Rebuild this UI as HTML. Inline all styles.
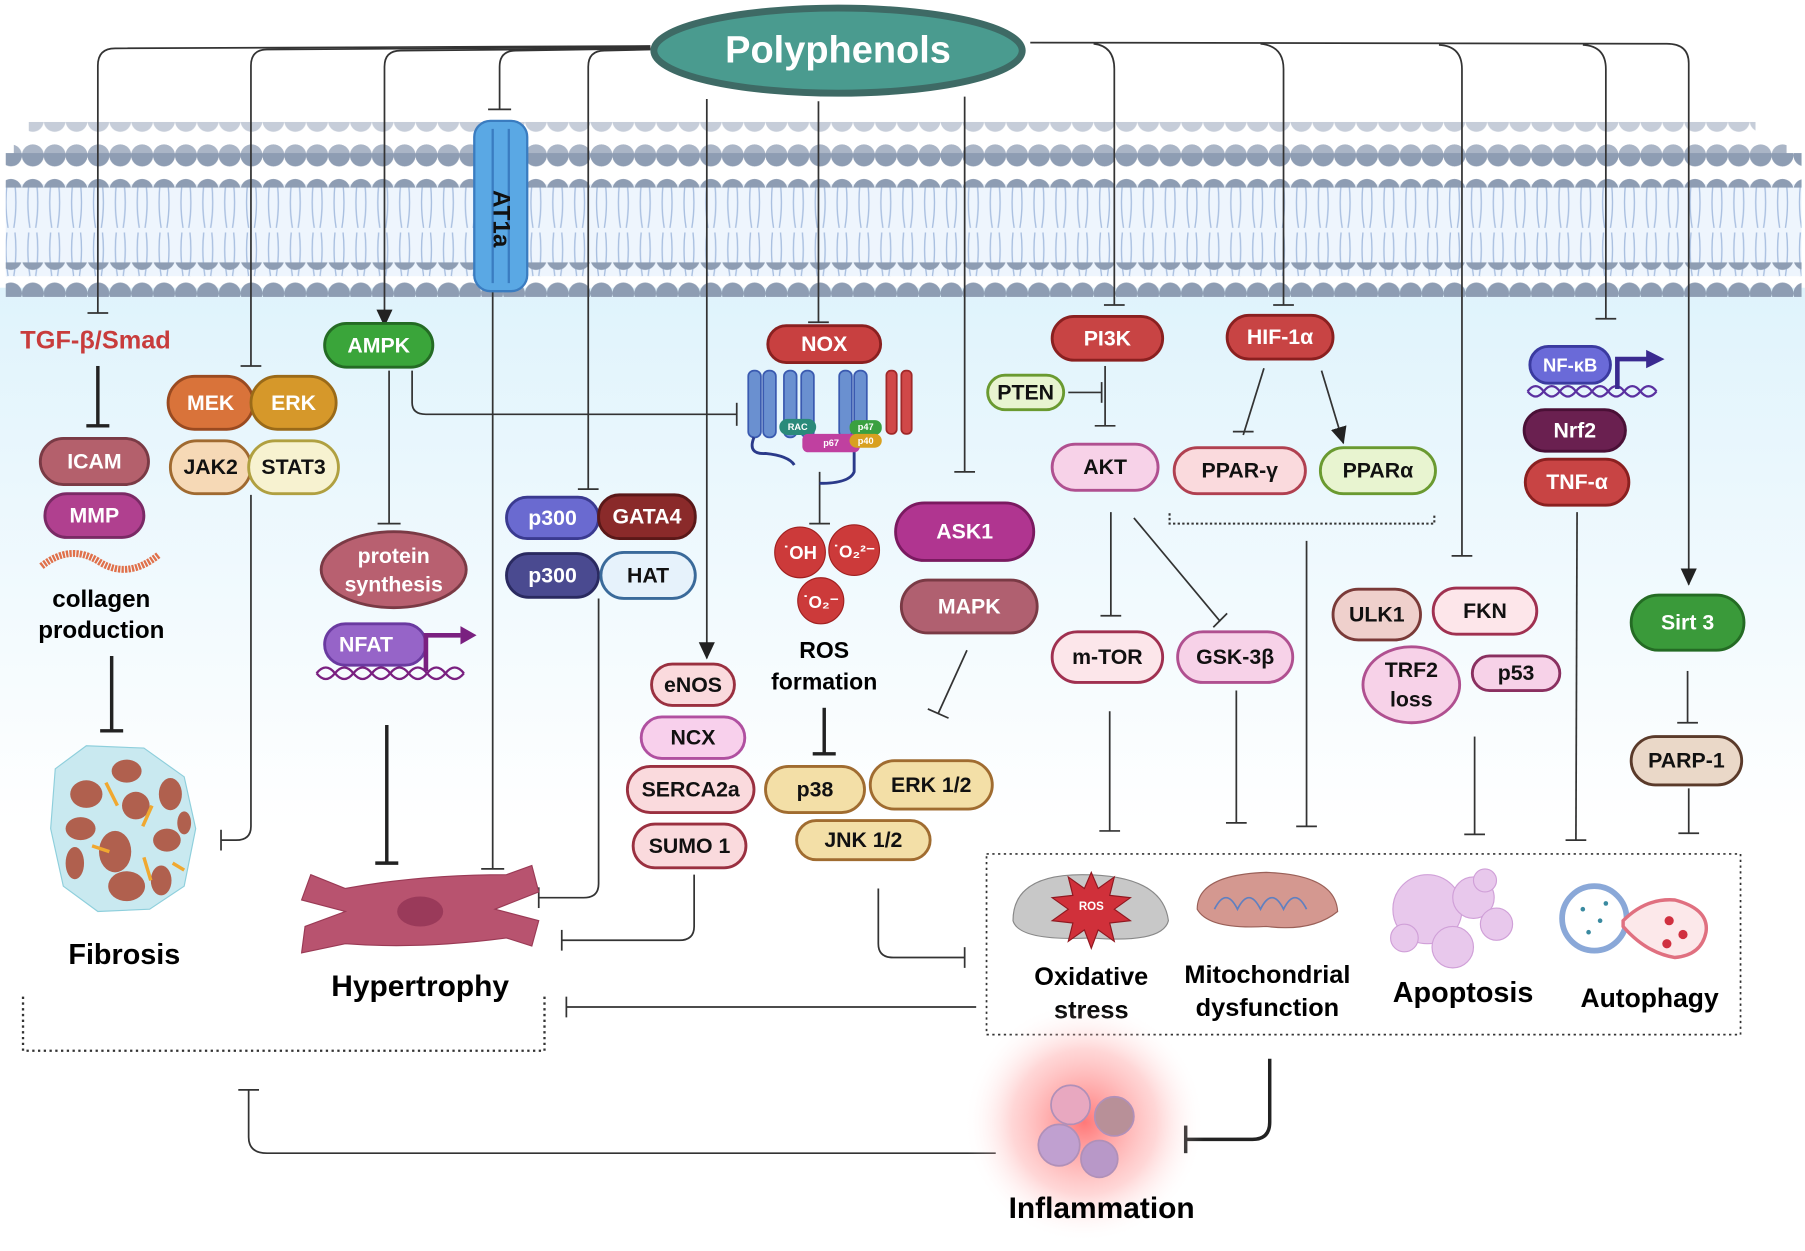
<!DOCTYPE html>
<html><head><meta charset="utf-8"><style>
html,body{margin:0;padding:0;background:#fff;overflow:hidden}
svg{display:block}
text{font-family:"Liberation Sans Narrow","Liberation Sans",sans-serif;font-weight:bold;text-anchor:middle;dominant-baseline:central}
</style></head><body>
<svg width="1805" height="1251" viewBox="0 0 1568 1087" preserveAspectRatio="none" xmlns="http://www.w3.org/2000/svg">
<defs>
<linearGradient id="bg" x1="0" y1="0" x2="0" y2="1">
<stop offset="0" stop-color="#dff3fc"/><stop offset="1" stop-color="#ffffff"/></linearGradient>
<pattern id="heads" width="19" height="30" patternUnits="userSpaceOnUse">
<circle cx="9.5" cy="15" r="9.5" fill="#8e9db3"/></pattern>
<pattern id="headsF" width="19" height="30" patternUnits="userSpaceOnUse">
<circle cx="9.5" cy="15" r="9.5" fill="#c6cdd9"/></pattern>
<pattern id="headsM" width="19" height="30" patternUnits="userSpaceOnUse">
<circle cx="9.5" cy="15" r="9.5" fill="#aab5c6"/></pattern>
<pattern id="tails" width="19" height="80" patternUnits="userSpaceOnUse">
<path d="M6 0 Q4 20 7 38 M13 0 Q15 20 12 38 M6 42 Q4 60 7 80 M13 42 Q15 60 12 80" stroke="#a9bfe0" stroke-width="1.2" fill="none"/></pattern>
<radialGradient id="glow"><stop offset="0" stop-color="#ff6060" stop-opacity="0.85"/><stop offset="0.6" stop-color="#ff9a9a" stop-opacity="0.4"/><stop offset="1" stop-color="#ffffff" stop-opacity="0"/></radialGradient>
<marker id="ar" markerWidth="16" markerHeight="16" refX="14" refY="7" orient="auto" markerUnits="userSpaceOnUse"><path d="M0 0 L15 7 L0 14Z" fill="#222"/></marker>
</defs>
<rect x="0" y="250" width="1568" height="470" fill="url(#bg)"/>
<rect x="5" y="160" width="1560" height="80" fill="#eef5fd"/>
<rect x="5" y="160" width="1560" height="80" fill="url(#tails)"/>
<rect x="25" y="106" width="1500" height="30" fill="url(#headsF)"/>
<rect x="12" y="118" width="1540" height="30" fill="url(#headsM)"/>
<rect x="5" y="133" width="1560" height="30" fill="url(#heads)"/>
<rect x="5" y="228" width="1560" height="30" fill="url(#heads)"/>

<g stroke="#333" stroke-width="1.5" fill="none">
<path d="M565 40 L100 42 Q85 42 85 57 L85 272"/><path d="M76 272 H94"/>
<path d="M565 41 L232 43 Q218 43 218 57 L218 318"/><path d="M209 318 H227"/>
<path d="M565 42 L348 44 Q334 44 334 58 L334 283" marker-end="url(#ar)"/>
<path d="M565 42 L448 44 Q434 44 434 58 L434 95"/><path d="M424 95 H444"/>
<path d="M565 43 L525 44 Q511 44 511 58 L511 425"/><path d="M502 425 H520"/>
<path d="M614 86 L614 572" marker-end="url(#ar)"/>
<path d="M711 88 L711 280"/><path d="M702 280 H720"/>
<path d="M838 84 L838 410"/><path d="M829 410 H847"/>
<path d="M895 37 L1448 38 Q1467 38 1467 55 L1467 508" marker-end="url(#ar)"/>
<path d="M950 38 Q968 40 968 60 L968 265"/><path d="M959 265 H977"/>
<path d="M1095 38 Q1115 40 1115 60 L1115 265"/><path d="M1106 265 H1124"/>
<path d="M1250 39 Q1270 40 1270 60 L1270 483"/><path d="M1261 483 H1279"/>
<path d="M1375 39 Q1395 40 1395 60 L1395 277"/><path d="M1386 277 H1404"/>
<path d="M338 322 L338 455"/><path d="M328 455 H348"/>
<path d="M358 322 L358 350 Q358 360 370 360 L640 360"/><path d="M640 350 V370"/>
<path d="M218 430 L218 718 Q218 730 205 730 L192 730"/><path d="M192 721 V739"/>
<path d="M428 252 L428 755"/><path d="M418 755 H438"/>
<path d="M520 520 L520 768 Q520 780 507 780 L468 780"/><path d="M468 771 V789"/>
<path d="M603 760 L603 805 Q603 817 590 817 L488 817"/><path d="M488 808 V826"/>
<path d="M712 410 L712 455"/><path d="M703 455 H721"/>
<path d="M763 772 L763 820 Q763 832 776 832 L838 832"/><path d="M838 823 V841"/>
<path d="M840 565 L815 620"/><path d="M806 616 L824 624"/>
<path d="M928 341 L957 341"/><path d="M957 332 V350"/>
<path d="M960 318 L960 370"/><path d="M951 370 H969"/>
<path d="M1098 320 L1080 378"/><path d="M1071 375 H1089"/>
<path d="M1148 322 L1167 385" marker-end="url(#ar)"/>
<path d="M1016 446 V455 H1246 V446" stroke-dasharray="2 2" stroke-width="1.8"/>
<path d="M1135 470 L1135 718"/><path d="M1126 718 H1144"/>
<path d="M965 445 L965 535"/><path d="M956 535 H974"/>
<path d="M985 450 L1060 540"/><path d="M1054 545 L1066 533"/>
<path d="M964 618 L964 722"/><path d="M955 722 H973"/>
<path d="M1074 600 L1074 715"/><path d="M1065 715 H1083"/>
<path d="M1281 640 L1281 725"/><path d="M1272 725 H1290"/>
<path d="M1370 445 L1369 730"/><path d="M1360 730 H1378"/>
<path d="M1466 583 L1466 628"/><path d="M1457 628 H1475"/>
<path d="M1467 685 L1467 724"/><path d="M1458 724 H1476"/>
<path d="M848 875 L492 875"/><path d="M492 866 V884"/>
<path d="M865 1002 L232 1002 Q216 1002 216 988 L216 947"/><path d="M207 947 H225"/>
</g>
<g stroke="#222" stroke-width="3" fill="none">
<path d="M85 318 L85 370"/><path d="M75 370 H95"/>
<path d="M97 570 L97 635"/><path d="M87 635 H107"/>
<path d="M336 630 L336 750"/><path d="M326 750 H346"/>
<path d="M716 615 L716 655"/><path d="M706 655 H726"/>
<path d="M1103 920 L1103 975 Q1103 990 1088 990 L1030 990"/><path d="M1030 978 V1002"/>
</g>
<rect x="857" y="742" width="655" height="157" fill="none" stroke="#333" stroke-width="1.5" stroke-dasharray="2 3"/>
<path d="M20 866 V913 H473 V866" fill="none" stroke="#333" stroke-width="2" stroke-dasharray="2 3"/>

<ellipse cx="728" cy="44" rx="160" ry="37" fill="#4a9b8f" stroke="#3e6a65" stroke-width="6"/>
<text x="728" y="44" fill="#fff" font-size="33">Polyphenols</text>

<rect x="412" y="105" width="46" height="148" rx="14" fill="#5aa8e4" stroke="#3a7cc0" stroke-width="2"/>
<line x1="428" y1="112" x2="428" y2="246" stroke="#3a7cc0" stroke-width="2"/><line x1="442" y1="112" x2="442" y2="246" stroke="#3a7cc0" stroke-width="2"/>
<text x="435" y="190" font-size="21" fill="#111" transform="rotate(90 435 190)">AT1a</text>

<text x="83" y="296" font-size="22" fill="#c83c3c">TGF-β/Smad</text>

<g font-size="18.5" stroke-width="2.5">
<rect x="35" y="381" width="94" height="40" rx="20" fill="#b4606c" stroke="#7a3a45"/><text x="82" y="401" fill="#fff" stroke="none">ICAM</text>
<rect x="39" y="429" width="86" height="38" rx="19" fill="#b0408f" stroke="#7a2a65"/><text x="82" y="448" fill="#fff" stroke="none">MMP</text>
<rect x="146" y="327" width="74" height="46" rx="23" fill="#d9733a" stroke="#9a4a20"/><text x="183" y="350" fill="#fff" stroke="none">MEK</text>
<rect x="218" y="327" width="74" height="46" rx="23" fill="#d6982a" stroke="#9a6a18"/><text x="255" y="350" fill="#fff" stroke="none">ERK</text>
<rect x="148" y="383" width="70" height="46" rx="23" fill="#f6d9b6" stroke="#a06a30"/><text x="183" y="406" fill="#111" stroke="none">JAK2</text>
<rect x="216" y="383" width="78" height="46" rx="23" fill="#f7f2d0" stroke="#b0a040"/><text x="255" y="406" fill="#111" stroke="none">STAT3</text>
<rect x="282" y="281" width="94" height="38" rx="19" fill="#3aa53a" stroke="#246b24"/><text x="329" y="300" fill="#fff" stroke="none">AMPK</text>
<ellipse cx="342" cy="495" rx="63" ry="33" fill="#b86070" stroke="#7a3a45"/><text x="342" y="483" fill="#fff" stroke="none">protein</text><text x="342" y="508" fill="#fff" stroke="none">synthesis</text>
<rect x="440" y="432" width="80" height="36" rx="18" fill="#6a6ad0" stroke="#3a3a90"/><text x="480" y="450" fill="#fff" stroke="none">p300</text>
<rect x="520" y="430" width="84" height="38" rx="18" fill="#8a2a2a" stroke="#5a1818"/><text x="562" y="449" fill="#fff" stroke="none">GATA4</text>
<rect x="440" y="481" width="80" height="38" rx="19" fill="#4a4a90" stroke="#2a2a60"/><text x="480" y="500" fill="#fff" stroke="none">p300</text>
<rect x="522" y="480" width="82" height="40" rx="20" fill="#e6f2fb" stroke="#3a6a9a"/><text x="563" y="500" fill="#111" stroke="none">HAT</text>
<rect x="566" y="577" width="72" height="36" rx="18" fill="#fadadd" stroke="#9a3040"/><text x="602" y="595" fill="#111" stroke="none">eNOS</text>
<rect x="557" y="623" width="90" height="36" rx="18" fill="#f8d0ec" stroke="#b050a0"/><text x="602" y="641" fill="#111" stroke="none">NCX</text>
<rect x="545" y="666" width="110" height="40" rx="20" fill="#fadadd" stroke="#9a3040"/><text x="600" y="686" fill="#111" stroke="none">SERCA2a</text>
<rect x="550" y="716" width="98" height="38" rx="19" fill="#fadadd" stroke="#9a3040"/><text x="599" y="735" fill="#111" stroke="none">SUMO 1</text>
<rect x="667" y="283" width="98" height="32" rx="16" fill="#c84040" stroke="#8a2020"/><text x="716" y="299" fill="#fff" stroke="none">NOX</text>
<rect x="665" y="666" width="86" height="40" rx="20" fill="#f3dfa7" stroke="#a06c30"/><text x="708" y="686" fill="#111" stroke="none">p38</text>
<rect x="756" y="661" width="106" height="42" rx="21" fill="#f3dfa7" stroke="#a06c30"/><text x="809" y="682" fill="#111" stroke="none" font-family="Liberation Serif">ERK 1/2</text>
<rect x="692" y="713" width="116" height="34" rx="17" fill="#f3dfa7" stroke="#a06c30"/><text x="750" y="730" fill="#111" stroke="none">JNK 1/2</text>
<rect x="778" y="437" width="120" height="50" rx="25" fill="#b03590" stroke="#7a1a60"/><text x="838" y="462" fill="#fff" stroke="none">ASK1</text>
<rect x="783" y="504" width="118" height="46" rx="23" fill="#b06070" stroke="#7a3a45"/><text x="842" y="527" fill="#fff" stroke="none">MAPK</text>
<rect x="914" y="275" width="96" height="38" rx="19" fill="#c84444" stroke="#8a2020"/><text x="962" y="294" fill="#fff" stroke="none">PI3K</text>
<rect x="858" y="326" width="66" height="30" rx="15" fill="#e8f4d0" stroke="#6a9a30"/><text x="891" y="341" fill="#111" stroke="none">PTEN</text>
<rect x="914" y="386" width="92" height="40" rx="20" fill="#f7d2e8" stroke="#b05090"/><text x="960" y="406" fill="#111" stroke="none">AKT</text>
<rect x="1066" y="274" width="92" height="38" rx="19" fill="#c84444" stroke="#8a2020"/><text x="1112" y="293" fill="#fff" stroke="none">HIF-1α</text>
<rect x="1020" y="389" width="114" height="40" rx="20" fill="#fadadd" stroke="#b04050"/><text x="1077" y="409" fill="#111" stroke="none">PPAR-γ</text>
<rect x="1147" y="389" width="100" height="40" rx="20" fill="#e8f4d0" stroke="#6a9a30"/><text x="1197" y="409" fill="#111" stroke="none">PPARα</text>
<rect x="914" y="549" width="96" height="44" rx="22" fill="#fce6ea" stroke="#a03050"/><text x="962" y="571" fill="#111" stroke="none">m-TOR</text>
<rect x="1023" y="549" width="100" height="44" rx="22" fill="#f7d2e8" stroke="#b05090"/><text x="1073" y="571" fill="#111" stroke="none">GSK-3β</text>
<rect x="1158" y="512" width="76" height="44" rx="22" fill="#efd0cc" stroke="#7a3a38"/><text x="1196" y="534" fill="#111" stroke="none">ULK1</text>
<rect x="1245" y="511" width="90" height="40" rx="20" fill="#fde6ea" stroke="#a03050"/><text x="1290" y="531" fill="#111" stroke="none" font-family="Liberation Serif">FKN</text>
<ellipse cx="1226" cy="595" rx="42" ry="33" fill="#f7d2e8" stroke="#b05090"/><text x="1226" y="582" fill="#111" stroke="none">TRF2</text><text x="1226" y="608" fill="#111" stroke="none">loss</text>
<rect x="1279" y="570" width="76" height="30" rx="15" fill="#f7d2e8" stroke="#8a3060"/><text x="1317" y="585" fill="#111" stroke="none" font-family="Liberation Serif">p53</text>
<rect x="1329" y="301" width="70" height="32" rx="16" fill="#6a6ad8" stroke="#3a3aa0"/><text x="1364" y="317" fill="#fff" stroke="none" font-size="16" font-weight="normal">NF-κB</text>
<rect x="1324" y="356" width="88" height="36" rx="18" fill="#6a2050" stroke="#4a1036"/><text x="1368" y="374" fill="#fff" stroke="none">Nrf2</text>
<rect x="1325" y="399" width="90" height="40" rx="20" fill="#c84444" stroke="#8a2020"/><text x="1370" y="419" fill="#fff" stroke="none">TNF-α</text>
<rect x="1417" y="517" width="98" height="48" rx="24" fill="#3a9a3a" stroke="#246b24"/><text x="1466" y="541" fill="#fff" stroke="none">Sirt 3</text>
<rect x="1417" y="640" width="96" height="42" rx="21" fill="#ead8c8" stroke="#5a3a2a"/><text x="1465" y="661" fill="#111" stroke="none">PARP-1</text>
<rect x="282" y="542" width="88" height="36" rx="18" fill="#9664c8" stroke="#6a3aa0"/><text x="318" y="560" fill="#fff" stroke="none" font-weight="normal">NFAT</text>
</g>
<g fill="none" stroke="#7a2080" stroke-width="2">
<path d="M275 585 q8-10 16 0 t16 0 t16 0 t16 0 t16 0 t16 0 t16 0 t16 0"/><path d="M275 585 q8 10 16 0 t16 0 t16 0 t16 0 t16 0 t16 0 t16 0 t16 0"/>
<path d="M370 583 V552 H400" stroke-width="4"/>
</g>
<path d="M400 544 L414 552 L400 560Z" fill="#7a2080"/>
<g fill="none" stroke="#5a30a0" stroke-width="2">
<path d="M1327 340 q7-9 14 0 t14 0 t14 0 t14 0 t14 0 t14 0 t14 0 t14 0"/><path d="M1327 340 q7 9 14 0 t14 0 t14 0 t14 0 t14 0 t14 0 t14 0 t14 0"/>
<path d="M1405 338 V312 H1432" stroke="#3a2a90" stroke-width="4"/>
</g>
<path d="M1430 304 L1446 312 L1430 320Z" fill="#3a2a90"/>
<path d="M36 492 q25-20 50 -4 t52 -6" fill="none" stroke="#e0704a" stroke-width="6" stroke-dasharray="2 1"/>
<text x="88" y="521" font-size="21" font-weight="normal">collagen</text>
<text x="88" y="548" font-size="21" font-weight="normal">production</text>
<g fill="#6a90d0" stroke="#3a5ab0" stroke-width="1.5">
<rect x="650" y="322" width="11" height="58" rx="5"/><rect x="663" y="322" width="11" height="58" rx="5"/>
<rect x="681" y="322" width="11" height="58" rx="5"/><rect x="696" y="322" width="11" height="58" rx="5"/>
<rect x="729" y="322" width="11" height="58" rx="5"/><rect x="742" y="322" width="11" height="58" rx="5"/>
</g>
<g fill="#d04848" stroke="#a02828" stroke-width="1.5"><rect x="770" y="322" width="9" height="55" rx="4"/><rect x="783" y="322" width="9" height="55" rx="4"/></g>
<path d="M655 380 q-6 15 10 14 q20 2 25 10 M700 380 q10 18 30 2 M742 380 v30 q-4 10 -30 10" fill="none" stroke="#2a3a8a" stroke-width="2.5"/>
<rect x="677" y="364" width="32" height="14" rx="7" fill="#2a8a7a"/><text x="693" y="371" font-size="8" fill="#fff" font-weight="normal">RAC</text>
<rect x="697" y="377" width="50" height="16" rx="5" fill="#c040a0"/><text x="722" y="385" font-size="8" fill="#fff" font-weight="normal">p67</text>
<rect x="738" y="365" width="28" height="13" rx="6" fill="#3aa040"/><text x="752" y="371" font-size="8" fill="#fff" font-weight="normal">p47</text>
<rect x="738" y="377" width="28" height="12" rx="6" fill="#d8a020"/><text x="752" y="383" font-size="8" fill="#fff" font-weight="normal">p40</text>
<g fill="#cc3a3a" stroke="#a02020"><circle cx="695" cy="480" r="22"/><circle cx="742" cy="478" r="22"/><circle cx="713" cy="522" r="20"/></g>
<text x="695" y="480" font-size="16" fill="#fff">˙OH</text><text x="742" y="479" font-size="15" fill="#fff">˙O₂²⁻</text><text x="713" y="523" font-size="15" fill="#fff">˙O₂⁻</text>
<text x="716" y="565" font-size="20">ROS</text><text x="716" y="592" font-size="20">formation</text>
<path d="M48 668 L75 648 L125 650 L160 675 L170 720 L160 770 L130 790 L85 792 L55 770 L44 720Z" fill="#c9e9f0" stroke="#8ecfdc"/>
<g fill="#b0604e"><ellipse cx="75" cy="690" rx="14" ry="12"/><ellipse cx="110" cy="670" rx="13" ry="10"/><ellipse cx="148" cy="690" rx="10" ry="14"/><ellipse cx="70" cy="720" rx="13" ry="10"/><ellipse cx="118" cy="700" rx="12" ry="12"/><ellipse cx="100" cy="740" rx="14" ry="18"/><ellipse cx="145" cy="730" rx="12" ry="10"/><ellipse cx="65" cy="750" rx="8" ry="14"/><ellipse cx="110" cy="770" rx="16" ry="13"/><ellipse cx="140" cy="765" rx="9" ry="13"/><ellipse cx="160" cy="715" rx="6" ry="10"/></g>
<g stroke="#f0a830" stroke-width="3"><path d="M92 680 l10 20 M132 700 l-8 18 M80 735 l15 5 M150 750 l10 6 M125 745 l6 20"/></g>
<text x="108" y="830" font-size="25">Fibrosis</text>
<path d="M270 760 L300 772 Q365 760 440 760 L462 752 L468 775 L430 790 L468 800 L462 822 L440 815 Q365 825 300 820 L262 828 L265 805 L300 792 L262 782Z" fill="#b8536f" stroke="#9a3a55"/>
<ellipse cx="365" cy="792" rx="20" ry="13" fill="#9a3a5a"/>
<text x="365" y="857" font-size="26">Hypertrophy</text>
<path d="M880 800 Q880 760 940 760 Q1010 760 1015 800 Q1010 820 948 815 Q885 818 880 800Z" fill="#c8c8c8" stroke="#888"/>
<path d="M948 758 l6 14 14 -10 -4 16 18 2 -14 10 14 10 -18 2 4 16 -14 -10 -6 16 -6 -16 -14 10 4 -16 -18 -2 14 -10 -14 -10 18 -2 -4 -16 14 10Z" fill="#d0303a" stroke="#901820"/>
<text x="948" y="788" font-size="10" fill="#fff" font-weight="normal">ROS</text>
<path d="M1040 790 Q1040 760 1100 758 Q1160 760 1162 792 Q1140 810 1100 805 Q1050 808 1040 790Z" fill="#d49890" stroke="#9a6058"/>
<path d="M1055 790 q10-20 20 0 q10-20 20 0 q10-20 20 0 q10-20 20 0" fill="none" stroke="#6080c0" stroke-width="1.5"/>
<g fill="#e8c8ec" stroke="#d0a0d8"><circle cx="1240" cy="790" r="30"/><circle cx="1280" cy="780" r="18"/><circle cx="1300" cy="803" r="14"/><circle cx="1262" cy="823" r="18"/><circle cx="1220" cy="815" r="12"/><circle cx="1290" cy="765" r="10"/></g>
<circle cx="1385" cy="798" r="28" fill="#fff" stroke="#8aa8d8" stroke-width="5"/>
<path d="M1410 800 Q1430 780 1455 782 Q1485 790 1482 810 Q1478 830 1455 832 Q1430 828 1410 805Z" fill="#fce8ea" stroke="#e07080" stroke-width="3"/>
<g fill="#d03040"><circle cx="1450" cy="800" r="4"/><circle cx="1462" cy="812" r="4"/><circle cx="1448" cy="820" r="4"/></g>
<g fill="#3a8aa0"><circle cx="1375" cy="790" r="2"/><circle cx="1390" cy="800" r="2"/><circle cx="1380" cy="810" r="2"/><circle cx="1395" cy="785" r="2"/></g>
<text x="948" y="849" font-size="22">Oxidative</text><text x="948" y="878" font-size="22">stress</text>
<text x="1101" y="847" font-size="22">Mitochondrial</text><text x="1101" y="876" font-size="22">dysfunction</text>
<text x="1271" y="863" font-size="25">Apoptosis</text>
<text x="1433" y="867" font-size="23">Autophagy</text>
<circle cx="942" cy="975" r="105" fill="url(#glow)"/>
<g stroke="#b090b8" stroke-width="1.5"><circle cx="930" cy="960" r="17" fill="#e8a8c0"/><circle cx="968" cy="970" r="17" fill="#b89098"/><circle cx="920" cy="995" r="18" fill="#c0a0d0"/><circle cx="955" cy="1007" r="16" fill="#b898c8"/></g>
<text x="957" y="1050" font-size="26">Inflammation</text>
</svg>
</body></html>
